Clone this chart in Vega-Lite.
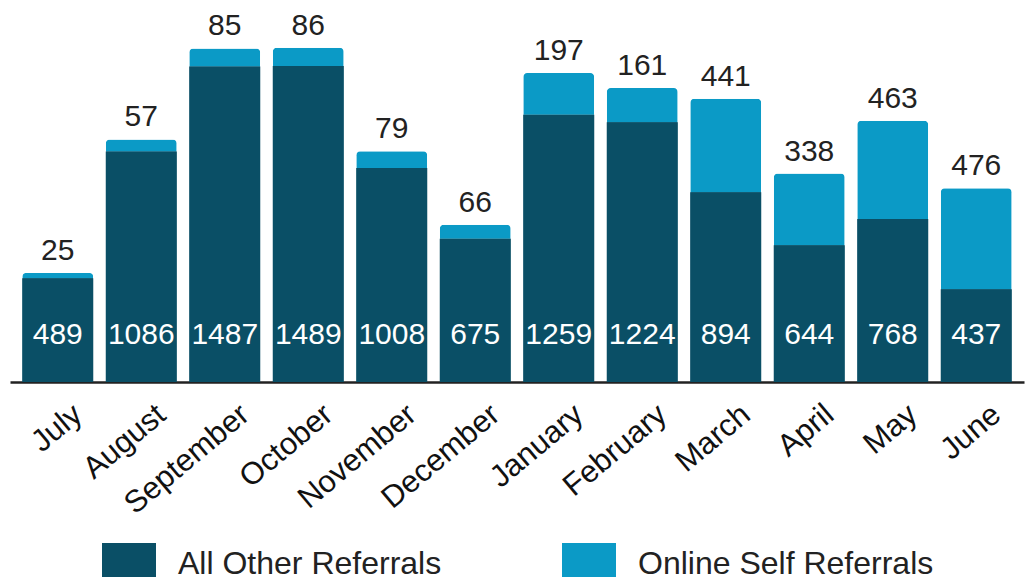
{
  "$schema": "https://vega.github.io/schema/vega-lite/v6.json",
  "width": 1014,
  "height": 382,
  "autosize": {"type": "none"},
  "padding": {"left": 10, "top": 0, "right": 2, "bottom": 198},
  "background": "white",
  "config": {
    "view": {"stroke": null},
    "font": "Liberation Sans"
  },
  "data": {
    "values": [
      {"month": "July", "series": "All Other Referrals", "value": 489},
      {"month": "July", "series": "Online Self Referrals", "value": 25},
      {"month": "August", "series": "All Other Referrals", "value": 1086},
      {"month": "August", "series": "Online Self Referrals", "value": 57},
      {"month": "September", "series": "All Other Referrals", "value": 1487},
      {"month": "September", "series": "Online Self Referrals", "value": 85},
      {"month": "October", "series": "All Other Referrals", "value": 1489},
      {"month": "October", "series": "Online Self Referrals", "value": 86},
      {"month": "November", "series": "All Other Referrals", "value": 1008},
      {"month": "November", "series": "Online Self Referrals", "value": 79},
      {"month": "December", "series": "All Other Referrals", "value": 675},
      {"month": "December", "series": "Online Self Referrals", "value": 66},
      {"month": "January", "series": "All Other Referrals", "value": 1259},
      {"month": "January", "series": "Online Self Referrals", "value": 197},
      {"month": "February", "series": "All Other Referrals", "value": 1224},
      {"month": "February", "series": "Online Self Referrals", "value": 161},
      {"month": "March", "series": "All Other Referrals", "value": 894},
      {"month": "March", "series": "Online Self Referrals", "value": 441},
      {"month": "April", "series": "All Other Referrals", "value": 644},
      {"month": "April", "series": "Online Self Referrals", "value": 338},
      {"month": "May", "series": "All Other Referrals", "value": 768},
      {"month": "May", "series": "Online Self Referrals", "value": 463},
      {"month": "June", "series": "All Other Referrals", "value": 437},
      {"month": "June", "series": "Online Self Referrals", "value": 476}
    ]
  },
  "encoding": {
    "x": {
      "field": "month",
      "type": "nominal",
      "sort": null,
      "scale": {"paddingInner": 0.15, "paddingOuter": 0.147},
      "axis": {
        "title": null,
        "labelAngle": -40,
        "labelFontSize": 31,
        "labelColor": "#111111",
        "labelFont": "Liberation Sans",
        "domainColor": "#222222",
        "domainWidth": 2.5,
        "ticks": false,
        "labelPadding": 17,
        "labelOffset": 11
      }
    }
  },
  "layer": [
    {
      "mark": {"type": "bar", "cornerRadiusTopLeft": 4, "cornerRadiusTopRight": 4},
      "encoding": {
        "y": {"field": "value", "type": "quantitative", "stack": "zero", "scale": {"domain": [0, 1800], "nice": false}, "axis": null},
        "order": {"field": "series", "type": "nominal", "sort": "ascending"},
        "color": {
          "field": "series",
          "type": "nominal",
          "scale": {"domain": ["All Other Referrals", "Online Self Referrals"], "range": ["#0a4f66", "#0b9ac6"]},
          "legend": {
            "title": null,
            "orient": "none",
            "direction": "horizontal",
            "legendX": 92,
            "legendY": 537,
            "padding": 0,
            "symbolType": "M-1,-0.78H1V0.48H-1Z",
            "symbolSize": 2916,
            "symbolStrokeWidth": 0,
            "symbolOpacity": 1,
            "labelFontSize": 32,
            "labelFont": "Liberation Sans",
            "labelColor": "#222222",
            "labelOffset": 22,
            "columnPadding": 120,
            "labelLimit": 400
          }
        }
      }
    },
    {
      "transform": [{"filter": "datum.series === 'All Other Referrals'"}],
      "mark": {"type": "bar"},
      "encoding": {
        "y": {"field": "value", "type": "quantitative"},
        "color": {"field": "series", "type": "nominal"}
      }
    },
    {
      "transform": [{"filter": "datum.series === 'All Other Referrals'"}],
      "mark": {"type": "text", "color": "white", "fontSize": 30, "baseline": "middle", "dy": -47, "font": "Liberation Sans"},
      "encoding": {
        "y": {"datum": 0, "type": "quantitative"},
        "text": {"field": "value", "type": "quantitative"}
      }
    },
    {
      "transform": [
        {"joinaggregate": [{"op": "sum", "field": "value", "as": "total"}], "groupby": ["month"]},
        {"filter": "datum.series === 'Online Self Referrals'"}
      ],
      "mark": {"type": "text", "color": "#222222", "fontSize": 30, "baseline": "alphabetic", "dy": -13, "font": "Liberation Sans"},
      "encoding": {
        "y": {"field": "total", "type": "quantitative"},
        "text": {"field": "value", "type": "quantitative"}
      }
    }
  ]
}
